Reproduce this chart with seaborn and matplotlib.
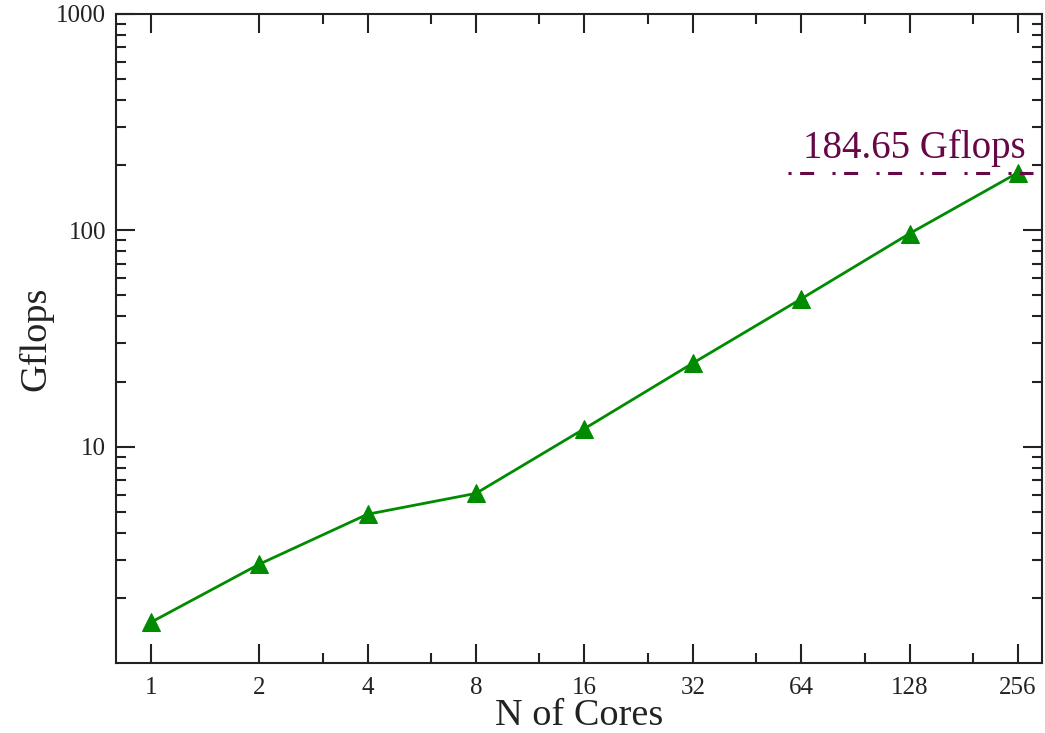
import numpy as np
import pandas as pd
import matplotlib
matplotlib.use("Agg")
import matplotlib.pyplot as plt
import matplotlib.ticker as mticker
import matplotlib.transforms as mtransforms
import seaborn as sns

# data
cores = [1, 2, 4, 8, 16, 32, 64, 128, 256]
gflops = [1.54, 2.86, 4.87, 6.08, 12.1, 24.3, 48.2, 96.6, 184.65]
peak_value = 184.65
peak_label = "184.65 Gflops"
peak_span = [59, 281]

green = "#008b00"
maroon = "#670748"
ink = "#222222"

sns.set_style("ticks")
plt.rcParams["font.family"] = ["Liberation Serif", "DejaVu Serif"]

df = pd.DataFrame({"cores": cores, "gflops": gflops})

fig = plt.figure(figsize=(10.45, 7.33), dpi=100)
ax = fig.add_axes([0.111, 0.0955, 0.886, 0.8855])

sns.lineplot(data=df, x="cores", y="gflops", ax=ax, color=green,
             linewidth=2.0, marker="^", markersize=13,
             markeredgecolor=green, markerfacecolor=green)

# peak performance reference line
ax.plot(peak_span, [peak_value, peak_value], color=maroon, linewidth=2.2,
        dashes=(1, 2.8, 4.6, 6.0))
trans = mtransforms.blended_transform_factory(fig.transFigure, ax.transData)
ax.text(1026 / 1045, peak_value * 1.06, peak_label, color=maroon,
        fontsize=28, ha="right", va="bottom", transform=trans)

ax.set_xscale("log", base=2)
ax.set_yscale("log")
ax.set_xlim(2 ** -0.32, 2 ** 8.22)
ax.set_ylim(1, 1000)

ax.xaxis.set_major_locator(mticker.FixedLocator(cores))
ax.xaxis.set_major_formatter(mticker.FixedFormatter([str(c) for c in cores]))
ax.xaxis.set_minor_locator(mticker.FixedLocator([3, 6, 12, 24, 48, 96, 192]))
ax.xaxis.set_minor_formatter(mticker.NullFormatter())

ax.yaxis.set_major_locator(mticker.FixedLocator([10, 100, 1000]))
ax.yaxis.set_major_formatter(mticker.FixedFormatter(["10", "100", "1000"]))
ax.yaxis.set_minor_locator(mticker.LogLocator(base=10, subs=np.arange(2, 10)))
ax.yaxis.set_minor_formatter(mticker.NullFormatter())

ax.tick_params(which="both", direction="in", top=True, right=True,
               color=ink, width=1.5, labelsize=18, labelcolor=ink)
ax.tick_params(which="major", length=14)
ax.tick_params(which="minor", length=7)
ax.tick_params(axis="x", pad=10)
ax.tick_params(axis="y", pad=7)

for s in ax.spines.values():
    s.set_visible(True)
    s.set_color(ink)
    s.set_linewidth(1.5)

ax.set_xlabel("N of Cores", fontsize=27.5, color=ink, labelpad=0)
ax.set_ylabel("Gflops", fontsize=27.5, color=ink, labelpad=2)

fig.savefig("out.png", dpi=100, facecolor="white")
